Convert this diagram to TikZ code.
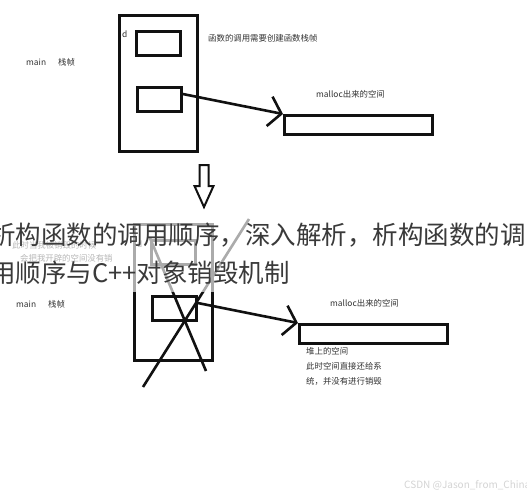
\documentclass[tikz,border=0pt]{standalone}
\usepackage{fontspec}
\setmainfont{Noto Sans CJK SC}
\usetikzlibrary{arrows.meta,calc}
\definecolor{ink}{HTML}{111111}
\definecolor{txt}{HTML}{333333}
\definecolor{headc}{HTML}{3A3A3A}
\definecolor{wmc}{HTML}{D4D4D4}
\tikzset{
  box/.style={draw=ink, line width=2.6pt, inner sep=0pt, anchor=north west},
  lbl/.style={font=\fontsize{8.4}{10}\selectfont, text=txt, inner sep=0pt, anchor=west},
  ptr/.style={draw=ink, line width=2.6pt, -{Straight Barb[length=12pt,width=30pt,line width=2.6pt]}},
  crossline/.style={draw=ink, line width=2.6pt},
  headline/.style={font=\fontsize{25.5}{30}\selectfont, text=headc, inner sep=0pt, anchor=west},
  wmark/.style={font=\fontsize{10}{12}\selectfont, text=wmc, inner sep=0pt, anchor=west},
}
\begin{document}
\begin{tikzpicture}[x=1pt,y=-1pt]
\clip (0,0) rectangle (527,490);
\fill[white] (0,0) rectangle (527,490);
% ---------- top diagram ----------
\node[box, minimum width=78pt, minimum height=136pt] (frame1) at (118,14) {};
\node[box, minimum width=44pt, minimum height=24pt] (s1a) at (135,30) {};
\node[box, minimum width=44pt, minimum height=24pt] (s1b) at (136,86) {};
\node[box, minimum width=148pt, minimum height=19pt] (heap1) at (283,114) {};
\node[lbl] (d1) at (122,34) {d};
\node[lbl] (note1) at (208,38) {函数的调用需要创建函数栈帧};
\node[lbl] (main1) at (26,62) {main};
\node[lbl] (frm1) at (58,62) {栈帧};
\node[lbl] (mal1) at (316,94) {malloc出来的空间};
\draw[ptr] ($(s1b.north east)!0.3!(s1b.south east)$) -- (heap1.north west);
% ---------- hollow down arrow ----------
\draw[ink, line width=2pt, line join=miter] (199.5,165) -- (208.5,165) -- (208.5,186) -- (213.5,186) -- (204,207) -- (194.5,186) -- (199.5,186) -- cycle;
% ---------- bottom diagram ----------
\node[box, minimum width=78pt, minimum height=136pt] (frame2) at (133,223) {};
\node[box, minimum width=44pt, minimum height=24pt] (s2a) at (150,239) {};
\node[box, minimum width=44pt, minimum height=24pt] (s2b) at (151,295) {};
\node[box, minimum width=148pt, minimum height=19pt] (heap2) at (298,323) {};
\node[lbl] (d2) at (137,244) {d};
\node[lbl] (main2) at (16,304) {main};
\node[lbl] (frm2) at (48,304) {栈帧};
\node[lbl] (mal2) at (330,303) {malloc出来的空间};
\node[lbl] (h1) at (306,351) {堆上的空间};
\node[lbl] (h2) at (306,366) {此时空间直接还给系};
\node[lbl] (h3) at (306,381) {统，并没有进行销毁};
\node[lbl] (f1) at (12,245) {此时当我被销毁的时候};
\node[lbl] (f2) at (20,258) {会把我开辟的空间没有销};
\draw[ptr] ($(s2b.north east)!0.3!(s2b.south east)$) -- (heap2.north west);
\coordinate (xa1) at (150,238);
\coordinate (xa2) at (206,371);
\coordinate (xb1) at (143,387);
\coordinate (xb2) at (249,219);
\draw[crossline] (xa1) -- (xa2);
\draw[crossline] (xb1) -- (xb2);
% ---------- overlay band and title ----------
\fill[white, opacity=0.65] (0,212) rectangle (527,292);
\node[headline] (t1) at (-10,235) {析构函数的调用顺序，深入解析，析构函数的调};
\node[headline] (t2) at (-10,273) {用顺序与C++对象销毁机制};
\node[wmark] (wm) at (404,485) {CSDN @Jason\_from\_China};
\end{tikzpicture}
\end{document}
